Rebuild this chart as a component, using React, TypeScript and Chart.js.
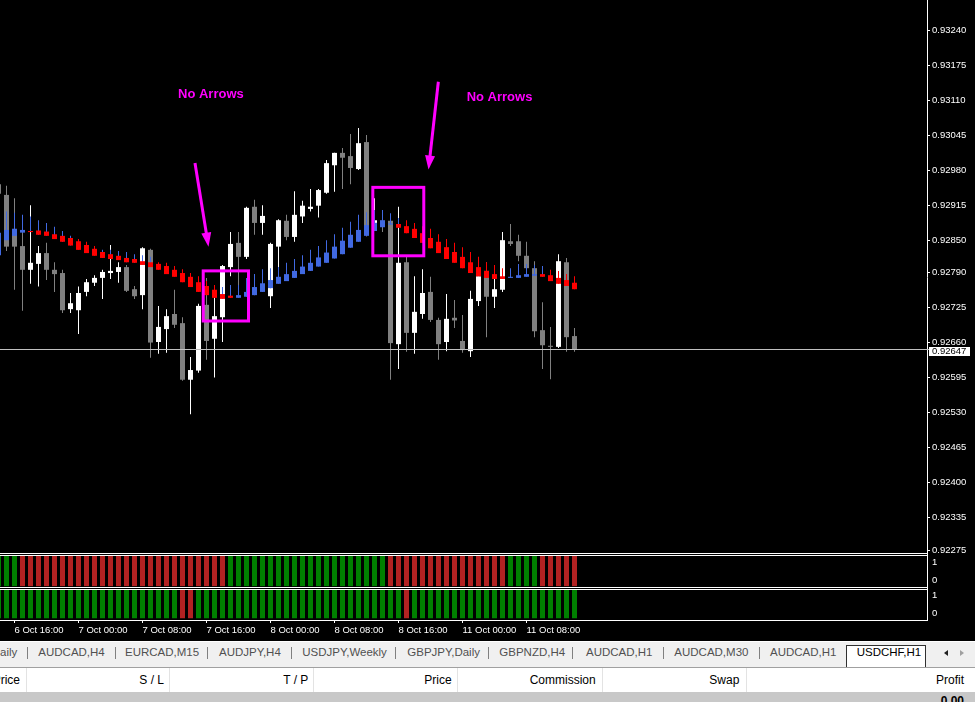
import React, { useEffect, useRef } from 'react';
import { Chart, registerables } from 'chart.js';

Chart.register(...registerables);

// ---------- DATA (USDCHF H1, candles k = -1 .. 71) ----------
const candleOpen = [
  0.92954, 0.92934, 0.92871, 0.92839, 0.92795, 0.92806, 0.92826, 0.92795, 0.92789, 0.92722,
  0.92720, 0.92754, 0.92771, 0.92780, 0.92789, 0.92791, 0.92800, 0.92759, 0.92748, 0.92832,
  0.92661, 0.92685, 0.92713, 0.92696, 0.92591, 0.92608, 0.92730, 0.92667, 0.92707, 0.92800,
  0.92845, 0.92819, 0.92912, 0.92882, 0.92746, 0.92838, 0.92886, 0.92856, 0.92894, 0.92908,
  0.92914, 0.92938, 0.92989, 0.93012, 0.93006, 0.92982, 0.93032, 0.92882, 0.92886, 0.92886,
  0.92657, 0.92809, 0.92678, 0.92713, 0.92754, 0.92702, 0.92661, 0.92706, 0.92663, 0.92644,
  0.92737, 0.92793, 0.92745, 0.92758, 0.92848, 0.92848, 0.92821, 0.92798, 0.92683, 0.92654,
  0.92652, 0.92809, 0.92672,
];
const candleHigh = [
  0.92960, 0.92951, 0.92928, 0.92873, 0.92915, 0.92839, 0.92845, 0.92809, 0.92795, 0.92752,
  0.92764, 0.92778, 0.92785, 0.92795, 0.92841, 0.92809, 0.92804, 0.92765, 0.92837, 0.92834,
  0.92728, 0.92722, 0.92758, 0.92707, 0.92633, 0.92732, 0.92780, 0.92743, 0.92804, 0.92865,
  0.92865, 0.92912, 0.92925, 0.92915, 0.92845, 0.92889, 0.92897, 0.92941, 0.92923, 0.92945,
  0.92945, 0.92999, 0.93012, 0.93021, 0.93047, 0.93058, 0.93045, 0.92928, 0.92902, 0.92889,
  0.92912, 0.92821, 0.92783, 0.92796, 0.92782, 0.92706, 0.92750, 0.92739, 0.92711, 0.92756,
  0.92800, 0.92809, 0.92804, 0.92865, 0.92880, 0.92860, 0.92847, 0.92811, 0.92735, 0.92689,
  0.92824, 0.92817, 0.92687,
];
const candleLow = [
  0.92930, 0.92830, 0.92758, 0.92719, 0.92769, 0.92764, 0.92776, 0.92754, 0.92715, 0.92715,
  0.92676, 0.92746, 0.92765, 0.92741, 0.92778, 0.92771, 0.92754, 0.92741, 0.92722, 0.92632,
  0.92639, 0.92641, 0.92687, 0.92589, 0.92527, 0.92604, 0.92628, 0.92595, 0.92661, 0.92783,
  0.92752, 0.92815, 0.92860, 0.92860, 0.92724, 0.92795, 0.92850, 0.92847, 0.92882, 0.92903,
  0.92892, 0.92936, 0.92940, 0.92945, 0.92954, 0.92980, 0.92857, 0.92867, 0.92865, 0.92591,
  0.92611, 0.92643, 0.92639, 0.92704, 0.92698, 0.92628, 0.92644, 0.92687, 0.92641, 0.92633,
  0.92728, 0.92670, 0.92724, 0.92754, 0.92839, 0.92811, 0.92795, 0.92670, 0.92611, 0.92592,
  0.92650, 0.92643, 0.92643,
];
const candleClose = [
  0.92936, 0.92838, 0.92838, 0.92795, 0.92808, 0.92826, 0.92795, 0.92787, 0.92720, 0.92733,
  0.92752, 0.92772, 0.92780, 0.92791, 0.92793, 0.92800, 0.92756, 0.92746, 0.92835, 0.92660,
  0.92689, 0.92709, 0.92693, 0.92591, 0.92609, 0.92728, 0.92663, 0.92709, 0.92802, 0.92843,
  0.92819, 0.92910, 0.92882, 0.92895, 0.92843, 0.92887, 0.92856, 0.92897, 0.92914, 0.92912,
  0.92943, 0.92993, 0.93012, 0.93003, 0.92984, 0.93030, 0.92861, 0.92887, 0.92876, 0.92659,
  0.92808, 0.92678, 0.92717, 0.92752, 0.92702, 0.92657, 0.92704, 0.92701, 0.92646, 0.92741,
  0.92783, 0.92745, 0.92759, 0.92850, 0.92843, 0.92821, 0.92798, 0.92681, 0.92655, 0.92652,
  0.92811, 0.92670, 0.92647,
];

// Heiken Ashi smoothed overlay
const haOpen = [
  0.92822, 0.92850, 0.92858, 0.92864, 0.92867, 0.92868, 0.92866, 0.92861, 0.92858, 0.92854,
  0.92848, 0.92841, 0.92834, 0.92828, 0.92824, 0.92821, 0.92817, 0.92815, 0.92811, 0.92809,
  0.92806, 0.92802, 0.92795, 0.92789, 0.92782, 0.92772, 0.92765, 0.92758, 0.92750, 0.92747,
  0.92743, 0.92745, 0.92748, 0.92754, 0.92761, 0.92769, 0.92774, 0.92780, 0.92787, 0.92793,
  0.92801, 0.92808, 0.92816, 0.92824, 0.92836, 0.92847, 0.92858, 0.92867, 0.92874, 0.92879,
  0.92880, 0.92876, 0.92871, 0.92863, 0.92854, 0.92847, 0.92837, 0.92828, 0.92819, 0.92809,
  0.92800, 0.92793, 0.92787, 0.92783, 0.92780, 0.92780, 0.92782, 0.92784, 0.92787, 0.92785,
  0.92780, 0.92776, 0.92771,
];
const haHigh = [
  0.92869, 0.92903, 0.92901, 0.92897, 0.92894, 0.92887, 0.92882, 0.92875, 0.92867, 0.92858,
  0.92852, 0.92847, 0.92839, 0.92832, 0.92832, 0.92830, 0.92828, 0.92824, 0.92822, 0.92819,
  0.92809, 0.92808, 0.92802, 0.92796, 0.92789, 0.92783, 0.92774, 0.92767, 0.92763, 0.92767,
  0.92767, 0.92780, 0.92787, 0.92796, 0.92798, 0.92800, 0.92808, 0.92815, 0.92822, 0.92832,
  0.92839, 0.92850, 0.92861, 0.92873, 0.92884, 0.92897, 0.92902, 0.92906, 0.92906, 0.92900,
  0.92891, 0.92887, 0.92882, 0.92876, 0.92871, 0.92861, 0.92852, 0.92845, 0.92837, 0.92828,
  0.92819, 0.92809, 0.92804, 0.92798, 0.92798, 0.92806, 0.92806, 0.92804, 0.92802, 0.92795,
  0.92793, 0.92787, 0.92783,
];
const haLow = [
  0.92822, 0.92850, 0.92858, 0.92864, 0.92865, 0.92860, 0.92858, 0.92852, 0.92847, 0.92840,
  0.92832, 0.92826, 0.92821, 0.92817, 0.92815, 0.92813, 0.92809, 0.92808, 0.92804, 0.92800,
  0.92795, 0.92787, 0.92782, 0.92772, 0.92763, 0.92754, 0.92748, 0.92743, 0.92741, 0.92743,
  0.92743, 0.92745, 0.92748, 0.92754, 0.92761, 0.92769, 0.92774, 0.92780, 0.92787, 0.92793,
  0.92801, 0.92808, 0.92816, 0.92824, 0.92836, 0.92847, 0.92858, 0.92867, 0.92874, 0.92879,
  0.92873, 0.92863, 0.92854, 0.92845, 0.92835, 0.92826, 0.92815, 0.92808, 0.92798, 0.92789,
  0.92783, 0.92780, 0.92778, 0.92778, 0.92780, 0.92780, 0.92782, 0.92784, 0.92782, 0.92774,
  0.92769, 0.92765, 0.92759,
];
const haClose = [
  0.92864, 0.92869, 0.92871, 0.92869, 0.92865, 0.92860, 0.92858, 0.92852, 0.92847, 0.92840,
  0.92832, 0.92826, 0.92821, 0.92817, 0.92815, 0.92813, 0.92809, 0.92808, 0.92804, 0.92800,
  0.92795, 0.92787, 0.92782, 0.92772, 0.92763, 0.92754, 0.92748, 0.92743, 0.92741, 0.92743,
  0.92748, 0.92754, 0.92763, 0.92770, 0.92776, 0.92782, 0.92787, 0.92793, 0.92801, 0.92808,
  0.92818, 0.92827, 0.92838, 0.92849, 0.92860, 0.92869, 0.92878, 0.92882, 0.92887, 0.92881,
  0.92873, 0.92863, 0.92854, 0.92845, 0.92835, 0.92826, 0.92815, 0.92808, 0.92798, 0.92789,
  0.92783, 0.92780, 0.92778, 0.92778, 0.92782, 0.92785, 0.92787, 0.92787, 0.92782, 0.92774,
  0.92769, 0.92765, 0.92759,
];
// direction of the smoothed high/low buffer (B = up/blue, R = down/red)
const haWickDir = [
  'BBBBBBBBBB', 'RRRBBBBBBB', 'RRRRRRRRBB', 'BBBBBBBBBB', 'BBBBBBBBBB',
  'BRRRRRRRRR', 'RRRRBBBBBR', 'RRR',
].join('');

// sub-window signals (G = up, R = down)
const signal1 = [
  'GGGRRRRRRR', 'RRRRRRRRRR', 'RRRRRRRRRG', 'GGGGGGGGGG', 'GGGGGGGGGR',
  'RRRRRRRRRR', 'RRRRGGGGRR', 'RRR',
].join('');
const signal2 = [
  'GGGGGGGGGG', 'GGGGGGGGGG', 'GGGRRGGGGG', 'GGGGGGGGGG', 'GGGGGGGGGG',
  'GRGGGGGGGG', 'GGGGGGGGGG', 'GGG',
].join('');

const timeTickIndex = [2, 10, 18, 26, 34, 42, 50, 58, 66];
const timeTickLabels = [
  '6 Oct 16:00', '7 Oct 00:00', '7 Oct 08:00', '7 Oct 16:00', '8 Oct 00:00',
  '8 Oct 08:00', '8 Oct 16:00', '11 Oct 00:00', '11 Oct 08:00',
];
const priceTicks = [
  0.93240, 0.93175, 0.93110, 0.93045, 0.92980, 0.92915, 0.92850, 0.92790,
  0.92725, 0.92660, 0.92595, 0.92530, 0.92465, 0.92400, 0.92335, 0.92275,
];
const panelTicks = [0, 1];
const currentPrice = 0.92647;

// annotations in data coordinates (bar index, price)
const noteBoxes = [
  { i0: 25.59, i1: 31.25, p0: 0.92793, p1: 0.92700 },
  { i0: 46.79, i1: 53.16, p0: 0.92948, p1: 0.92821 },
];
const noteArrows = [
  { i0: 24.56, p0: 0.92993, i1: 26.25, p1: 0.92838 },
  { i0: 54.98, p0: 0.93144, i1: 53.75, p1: 0.92981 },
];
const noteTexts = [
  { i: 22.44, p: 0.93113, text: 'No Arrows' },
  { i: 58.52, p: 0.93109, text: 'No Arrows' },
];

const tabNames = ['Daily', 'AUDCAD,H4', 'EURCAD,M15', 'AUDJPY,H4', 'USDJPY,Weekly', 'GBPJPY,Daily',
  'GBPNZD,H4', 'AUDCAD,H1', 'AUDCAD,M30', 'AUDCAD,H1', 'USDCHF,H1'];
const headerNames = ['Price', 'S / L', 'T / P', 'Price', 'Commission', 'Swap', 'Profit'];
const totalProfit = '0.00';

// ---------- STYLE / LAYOUT ----------
const X_MIN = 0.1875;
const X_MAX = 116.0625;
const Y_MIN = 0.922676;
const Y_MAX = 0.932957;
const PANEL_MIN = -0.4;
const PANEL_MAX = 1.45;
const PANEL_BAR = [-0.3, 1.35];

const BULL = '#ffffff';
const BEAR = '#808080';
const HA_UP = '#4169e1';
const HA_DN = '#ff0000';
const SIG_UP = '#008000';
const SIG_DN = '#b22222';
const MAGENTA = '#ff00ff';
const AXIS_FONT = '"Liberation Sans", Arial, sans-serif';

const tabLefts = [-8.3, 38.3, 125, 219, 302.3, 407.3, 499.3, 586, 674.3, 770, 856.7];
const tabSeps = [27.3, 115, 207.3, 291, 395, 487.5, 572, 663.3, 759.3];
const headerRights = [20, 164, 308.3, 451.7, 595.7, 739.3, 964];
const headerSeps = [25.7, 169.3, 313.3, 457.3, 601.7, 745.7];

const idx = candleOpen.map((_, i) => i);

function barSet(label: string, yAxisID: string, pts: any[], colors: string[], thickness: number, order: number) {
  return {
    type: 'bar',
    label,
    data: pts,
    backgroundColor: colors,
    borderWidth: 0,
    barThickness: thickness,
    grouped: false,
    minBarLength: 1,
    inflateAmount: 0,
    order,
    xAxisID: 'x',
    yAxisID,
  };
}

const datasets: any[] = [
  barSet('HA body', 'y', idx.map(i => ({ x: i, y: [haOpen[i], haClose[i]] })),
    idx.map(i => (haClose[i] >= haOpen[i] ? HA_UP : HA_DN)), 5, 1),
  barSet('HA wick', 'y', idx.map(i => ({ x: i, y: [haLow[i], haHigh[i]] })),
    idx.map(i => (haWickDir[i] === 'B' ? HA_UP : HA_DN)), 1, 2),
  barSet('Candle body', 'y', idx.map(i => ({ x: i, y: [candleOpen[i], candleClose[i]] })),
    idx.map(i => (candleClose[i] >= candleOpen[i] ? BULL : BEAR)), 5, 3),
  barSet('Candle wick', 'y', idx.map(i => ({ x: i, y: [candleLow[i], candleHigh[i]] })),
    idx.map(i => (candleClose[i] >= candleOpen[i] ? BULL : BEAR)), 1, 4),
  barSet('Signal 1', 'y2', idx.map(i => ({ x: i, y: PANEL_BAR })),
    idx.map(i => (signal1[i] === 'G' ? SIG_UP : SIG_DN)), 5, 5),
  barSet('Signal 2', 'y3', idx.map(i => ({ x: i, y: PANEL_BAR })),
    idx.map(i => (signal2[i] === 'G' ? SIG_UP : SIG_DN)), 5, 6),
];

function fixWidth(s: any) {
  s.width = 48;
  s.paddingTop = 0; s.paddingBottom = 0; s.paddingLeft = 0; s.paddingRight = 0;
}

const overlayPlugin = {
  id: 'mtOverlay',
  afterDatasetsDraw(chart: any) {
    const { ctx, chartArea, scales } = chart;
    const xs = scales.x;
    const ys = scales.y;
    ctx.save();
    const py = Math.floor(ys.getPixelForValue(currentPrice)) + 0.5;
    ctx.strokeStyle = '#c0c0c0';
    ctx.lineWidth = 1;
    ctx.beginPath();
    ctx.moveTo(chartArea.left, py);
    ctx.lineTo(chartArea.right + 2, py);
    ctx.stroke();

    ctx.strokeStyle = MAGENTA;
    ctx.fillStyle = MAGENTA;
    ctx.lineWidth = 3;
    for (const b of noteBoxes) {
      const x0 = xs.getPixelForValue(b.i0);
      const x1 = xs.getPixelForValue(b.i1);
      const y0 = ys.getPixelForValue(b.p0);
      const y1 = ys.getPixelForValue(b.p1);
      ctx.strokeRect(x0, y0, x1 - x0, y1 - y0);
    }
    for (const a of noteArrows) {
      const x0 = xs.getPixelForValue(a.i0);
      const y0 = ys.getPixelForValue(a.p0);
      const x1 = xs.getPixelForValue(a.i1);
      const y1 = ys.getPixelForValue(a.p1);
      const len = Math.hypot(x1 - x0, y1 - y0);
      const ux = (x1 - x0) / len;
      const uy = (y1 - y0) / len;
      const headL = 14;
      const headW = 5;
      const bx = x1 - ux * headL;
      const by = y1 - uy * headL;
      ctx.beginPath();
      ctx.moveTo(x0, y0);
      ctx.lineTo(bx + ux * 2, by + uy * 2);
      ctx.stroke();
      ctx.beginPath();
      ctx.moveTo(x1, y1);
      ctx.lineTo(bx - uy * headW, by + ux * headW);
      ctx.lineTo(bx + uy * headW, by - ux * headW);
      ctx.closePath();
      ctx.fill();
    }
    ctx.font = 'bold 13px "Liberation Sans", Arial, sans-serif';
    ctx.textAlign = 'left';
    ctx.textBaseline = 'alphabetic';
    for (const t of noteTexts) {
      ctx.fillText(t.text, xs.getPixelForValue(t.i), ys.getPixelForValue(t.p));
    }
    ctx.restore();
  },
  afterDraw(chart: any) {
    const { ctx, chartArea, scales } = chart;
    ctx.save();
    ctx.fillStyle = '#ffffff';
    const rows = [scales.y.bottom - 1, scales.y2.top + 1, scales.y2.bottom - 1, scales.y3.top + 1];
    for (const r of rows) {
      ctx.fillRect(chartArea.left, Math.round(r), chartArea.right - chartArea.left, 1);
    }
    const py = Math.floor(scales.y.getPixelForValue(currentPrice));
    ctx.fillRect(chartArea.right + 2, py - 2, 41, 9);
    ctx.fillStyle = '#000000';
    ctx.font = '9.5px ' + AXIS_FONT;
    ctx.textAlign = 'left';
    ctx.textBaseline = 'middle';
    ctx.fillText(currentPrice.toFixed(5), chartArea.right + 5, py + 2.5);
    ctx.restore();
  },
};

export default function App() {
  const ref = useRef<HTMLCanvasElement>(null);
  useEffect(() => {
    document.body.style.margin = '0';
    document.body.style.background = '#000';
    const canvas = ref.current as HTMLCanvasElement;
    const tickFont = { family: AXIS_FONT, size: 9.5 };
    const chart = new Chart(canvas, {
      type: 'bar',
      data: { datasets },
      options: {
        animation: false,
        responsive: false,
        maintainAspectRatio: false,
        devicePixelRatio: 1,
        events: [],
        layout: { padding: 0 },
        plugins: { legend: { display: false }, tooltip: { enabled: false } },
        scales: {
          x: {
            type: 'linear',
            position: 'bottom',
            min: X_MIN,
            max: X_MAX,
            offset: false,
            grid: { display: true, drawOnChartArea: false, drawTicks: true, tickLength: 3, color: '#ffffff', offset: false },
            border: { display: true, color: '#ffffff' },
            ticks: {
              autoSkip: false, maxRotation: 0, minRotation: 0, align: 'start', padding: 2,
              color: '#ffffff', font: tickFont,
              callback: (_v: any, i: number) => timeTickLabels[i],
            },
            afterBuildTicks: (s: any) => { s.ticks = timeTickIndex.map(v => ({ value: v })); },
            afterFit: (s: any) => { s.height = 20; s.paddingLeft = 0; s.paddingRight = 0; },
          },
          y: {
            type: 'linear',
            position: 'right',
            stack: 'win',
            stackWeight: 554,
            min: Y_MIN,
            max: Y_MAX,
            beginAtZero: false,
            grid: { display: true, drawOnChartArea: false, drawTicks: true, tickLength: 3, color: '#ffffff' },
            border: { display: true, color: '#ffffff' },
            ticks: {
              autoSkip: false, padding: 2, color: '#ffffff', font: tickFont,
              callback: (v: any) => Number(v).toFixed(5),
            },
            afterBuildTicks: (s: any) => { s.ticks = priceTicks.map(v => ({ value: v })); },
            afterFit: fixWidth,
          },
          y2: {
            type: 'linear',
            position: 'right',
            stack: 'win',
            stackWeight: 34,
            min: PANEL_MIN,
            max: PANEL_MAX,
            beginAtZero: false,
            grid: { display: false, drawTicks: false },
            border: { display: true, color: '#ffffff' },
            ticks: { autoSkip: false, padding: 5, color: '#ffffff', font: tickFont, callback: (v: any) => String(v) },
            afterBuildTicks: (s: any) => { s.ticks = panelTicks.map(v => ({ value: v })); },
            afterFit: fixWidth,
          },
          y3: {
            type: 'linear',
            position: 'right',
            stack: 'win',
            stackWeight: 32,
            min: PANEL_MIN,
            max: PANEL_MAX,
            beginAtZero: false,
            grid: { display: false, drawTicks: false },
            border: { display: true, color: '#ffffff' },
            ticks: { autoSkip: false, padding: 5, color: '#ffffff', font: tickFont, callback: (v: any) => String(v) },
            afterBuildTicks: (s: any) => { s.ticks = panelTicks.map(v => ({ value: v })); },
            afterFit: fixWidth,
          },
        },
      } as any,
      plugins: [overlayPlugin],
    } as any);
    return () => chart.destroy();
  }, []);

  const uiFont = '"Liberation Sans", Arial, sans-serif';
  return (
    <div style={{ position: 'relative', width: 975, height: 702, background: '#000', overflow: 'hidden', fontFamily: uiFont }}>
      <canvas ref={ref} width={975} height={640} style={{ display: 'block', width: 975, height: 640 }} />
      {/* tab strip */}
      <div style={{ position: 'absolute', left: 0, top: 641, width: 975, height: 1, background: '#ffffff' }} />
      <div style={{ position: 'absolute', left: 0, top: 642, width: 975, height: 25, background: '#f0f0f0' }} />
      {tabSeps.map((x, i) => (
        <div key={'ts' + i} style={{ position: 'absolute', left: Math.round(x), top: 647, width: 1, height: 12, background: '#808080' }} />
      ))}
      <div style={{ position: 'absolute', left: 846, top: 645, width: 80, height: 23, background: '#ffffff',
        borderLeft: '1px solid #303030', borderTop: '1px solid #303030', borderRight: '1px solid #303030', boxSizing: 'border-box' }} />
      {tabNames.map((n, i) => (
        <div key={'tn' + i} style={{ position: 'absolute', left: tabLefts[i], top: 645.5, fontSize: 11.5, lineHeight: '13px',
          color: i === tabNames.length - 1 ? '#000000' : '#505050', whiteSpace: 'nowrap' }}>{n}</div>
      ))}
      <div style={{ position: 'absolute', left: 944, top: 650, width: 0, height: 0, borderTop: '3px solid transparent',
        borderBottom: '3px solid transparent', borderRight: '4px solid #202020' }} />
      <div style={{ position: 'absolute', left: 960, top: 650, width: 0, height: 0, borderTop: '3px solid transparent',
        borderBottom: '3px solid transparent', borderLeft: '4px solid #a0a0a0' }} />
      {/* terminal header */}
      <div style={{ position: 'absolute', left: 0, top: 667, width: 975, height: 1, background: '#a0a0a0' }} />
      <div style={{ position: 'absolute', left: 0, top: 668, width: 975, height: 24, background: '#ffffff' }} />
      {headerSeps.map((x, i) => (
        <div key={'hs' + i} style={{ position: 'absolute', left: Math.round(x), top: 668, width: 1, height: 24, background: '#e3e3e3' }} />
      ))}
      {headerNames.map((n, i) => (
        <div key={'hn' + i} style={{ position: 'absolute', right: 975 - headerRights[i], top: 673, fontSize: 12, lineHeight: '14px',
          color: '#000000', whiteSpace: 'nowrap' }}>{n}</div>
      ))}
      <div style={{ position: 'absolute', left: 0, top: 692, width: 975, height: 10, background: '#c8c8c8' }} />
      <div style={{ position: 'absolute', right: 11, top: 694, fontSize: 12, lineHeight: '14px', fontWeight: 'bold',
        color: '#000000', whiteSpace: 'nowrap' }}>{totalProfit}</div>
    </div>
  );
}
